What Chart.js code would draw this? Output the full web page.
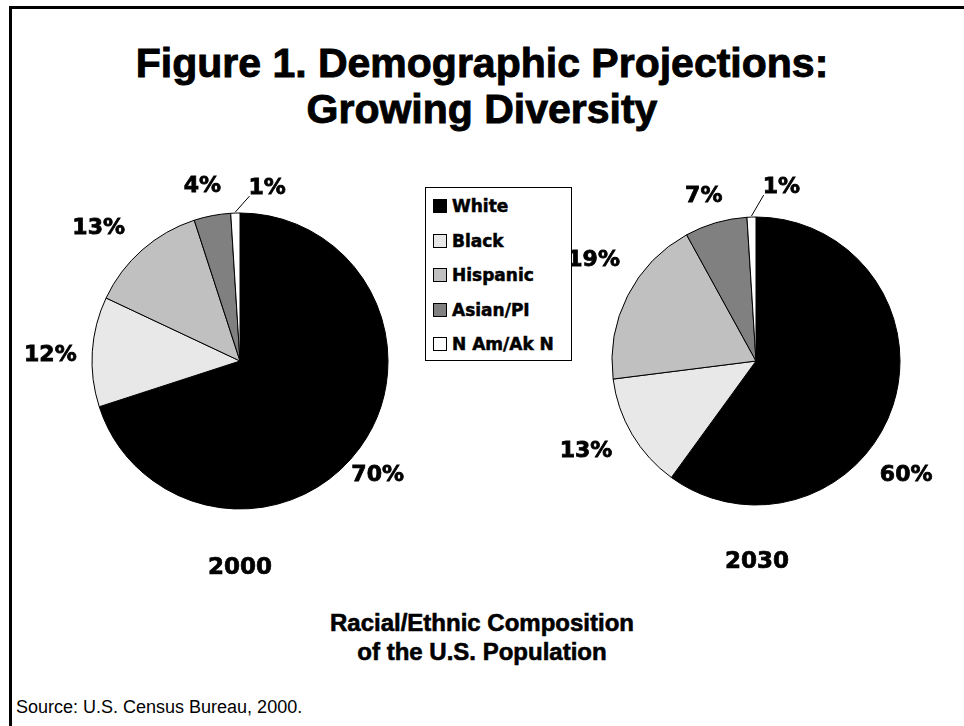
<!DOCTYPE html>
<html>
<head>
<meta charset="utf-8">
<script src="https://cdn.jsdelivr.net/npm/chart.js@4.4.1/dist/chart.umd.min.js"></script>
<style>
  body { margin: 0; background: #fff; }
  #fig { position: relative; width: 964px; height: 726px; overflow: hidden; background: #fff; }
  #frame { position: absolute; left: 9px; top: 6px; width: 2000px; height: 2000px; border-left: 3px solid #000; border-top: 3px solid #000; }
  .heavy { position: absolute; font-family: "Liberation Sans", Arial, sans-serif; font-weight: bold; color: #000; text-align: center; -webkit-text-stroke: 0.9px #000; }
  #title { left: 0; top: 40px; width: 964px; font-size: 41px; line-height: 46px; }
  #subtitle { left: 0; top: 608px; width: 964px; font-size: 24px; line-height: 29px; -webkit-text-stroke: 0.6px #000; }
  .year { position: absolute; font-family: "DejaVu Sans", sans-serif; font-weight: bold; font-size: 23px; width: 120px; text-align: center; line-height: 26px; -webkit-text-stroke: 0.7px #000; }
  #source { position: absolute; left: 16px; top: 697px; font-family: "Liberation Sans", Arial, sans-serif; font-size: 18px; }
  #legend { position: absolute; left: 425px; top: 187px; width: 147px; height: 174px; border: 1px solid #000; box-sizing: border-box; background: #fff; }
  .item { position: absolute; left: 7px; font-family: "DejaVu Sans", sans-serif; font-weight: bold; font-size: 17px; line-height: 20px; white-space: nowrap; -webkit-text-stroke: 0.5px #000; }
  .sw { display: inline-block; width: 12px; height: 12px; border: 1px solid #000; margin-right: 5px; vertical-align: -1px; -webkit-text-stroke: 0; }
  canvas { position: absolute; }
</style>
</head>
<body>
<div id="fig">
  <div id="frame"></div>
  <div id="title" class="heavy">Figure 1. Demographic Projections:<br>Growing Diversity</div>
  <div style="position:absolute;left:0;top:161px;width:480px;height:400px;"><canvas id="pie2000"></canvas></div>
  <div style="position:absolute;left:516px;top:161px;width:448px;height:400px;"><canvas id="pie2030"></canvas></div>
  <div id="legend"></div>
  <div class="year" id="y1" style="left:180px;top:553px;"></div>
  <div class="year" id="y2" style="left:697px;top:547px;"></div>
  <div id="subtitle" class="heavy">Racial/Ethnic Composition<br>of the U.S. Population</div>
  <div id="source">Source: U.S. Census Bureau, 2000.</div>
</div>
<script>
// ---- data ----
const categories = ['White', 'Black', 'Hispanic', 'Asian/PI', 'N Am/Ak N'];
const pct2000 = [70, 12, 13, 4, 1];
const pct2030 = [60, 13, 19, 7, 1];
const years = ['2000', '2030'];
const sliceColors = ['#000000', '#e8e8e8', '#c0c0c0', '#808080', '#ffffff'];

// legend (html)
const legendBox = document.getElementById('legend');
categories.forEach((c, i) => {
    const el = document.createElement('div');
    el.className = 'item';
    el.style.top = (8 + i * 34.5) + 'px';
    el.innerHTML = '<span class="sw" style="background:' + sliceColors[i] + '"></span>' + c;
    legendBox.appendChild(el);
});
document.getElementById('y1').textContent = years[0];
document.getElementById('y2').textContent = years[1];

// percent labels outside the slices, leader line for tiny ones
const pctLabels = {
    id: 'pctLabels',
    afterDatasetsDraw(chart, args, opts) {
        const ctx = chart.ctx;
        const ds = chart.data.datasets[0];
        const meta = chart.getDatasetMeta(0);
        ctx.save();
        ctx.font = 'bold 22px "DejaVu Sans"';
        ctx.fillStyle = '#000';
        ctx.strokeStyle = '#000';
        ctx.textAlign = 'center';
        ctx.textBaseline = 'middle';
        meta.data.forEach((arc, i) => {
            const p = arc.getProps(['x', 'y', 'startAngle', 'endAngle', 'outerRadius'], true);
            const mid = (p.startAngle + p.endAngle) / 2;
            const nudge = opts.nudge[i] || [0, 0];
            const lx = p.x + Math.cos(mid) * p.outerRadius * 1.25 + nudge[0];
            const ly = p.y + Math.sin(mid) * p.outerRadius * 1.25 + nudge[1];
            const txt = ds.data[i] + '%';
            ctx.lineWidth = 0.8;
            ctx.fillText(txt, lx, ly);
            ctx.strokeText(txt, lx, ly);
            if (ds.data[i] < 2) {
                const w = ctx.measureText(txt).width;
                ctx.beginPath();
                ctx.lineWidth = 1;
                ctx.moveTo(p.x + Math.cos(mid) * (p.outerRadius + 1), p.y + Math.sin(mid) * (p.outerRadius + 1));
                ctx.lineTo(lx - w / 2 + 1, ly + 8);
                ctx.stroke();
            }
        });
        ctx.restore();
    }
};

function makePie(id, values, pad, nudge) {
    return new Chart(document.getElementById(id), {
        type: 'pie',
        data: {
            labels: categories,
            datasets: [{ data: values, backgroundColor: sliceColors, borderColor: '#000', borderWidth: 1 }]
        },
        options: {
            responsive: true, maintainAspectRatio: false, animation: false,
            layout: { padding: pad },
            plugins: { legend: { display: false }, tooltip: { enabled: false }, pctLabels: { nudge: nudge } }
        },
        plugins: [pctLabels]
    });
}

const pie2000 = makePie('pie2000', pct2000,
    { left: 91.5, right: 91.5, top: 51.5, bottom: 51.5 },
    [[-12, 6], [-5, 6], [-19, 6], [-3, 7], [33, 12]]);
const pie2030 = makePie('pie2030', pct2030,
    { left: 95.5, right: 63.5, top: 55.5, bottom: 55.5 },
    [[-21, 59], [-15, -1], [-2, -19], [-2, 8], [31, 6]]);
</script>
</body>
</html>
